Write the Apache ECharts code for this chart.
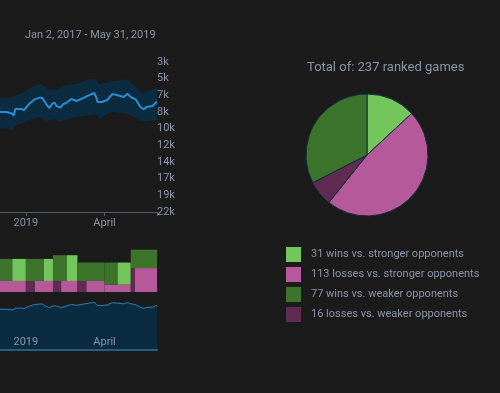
<!DOCTYPE html>
<html>
<head>
<meta charset="utf-8">
<script src="https://cdn.jsdelivr.net/npm/echarts@6/dist/echarts.min.js"></script>
<style>
html,body{margin:0;padding:0;background:#1b1b1b;}
#chart{width:500px;height:393px;}
</style>
</head>
<body>
<div id="chart"></div>
<script>
// ---- data ----
const rankLabels = ['3k','5k','7k','8k','10k','12k','14k','17k','19k','22k'];
// rank line (values in rank-label index units: 0 = 3k ... 9 = 22k)
const lineDates = ['2018-11-25','2018-12-10','2018-12-17','2018-12-18','2018-12-20','2018-12-22','2018-12-27','2018-12-30','2019-01-05','2019-01-11','2019-01-17','2019-01-20','2019-01-25','2019-01-28','2019-01-31','2019-02-03','2019-02-05','2019-02-06','2019-02-10','2019-02-12','2019-02-16','2019-02-22','2019-02-28','2019-03-06','2019-03-14','2019-03-20','2019-03-22','2019-03-24','2019-03-29','2019-04-04','2019-04-10','2019-04-15','2019-04-23','2019-04-27','2019-05-01','2019-05-07','2019-05-12','2019-05-16','2019-05-19','2019-05-26','2019-05-28','2019-05-31'];
const lineRank = [3.0,3.0,3.10,3.24,2.82,2.70,2.82,2.88,2.50,2.24,2.14,2.16,2.58,2.76,2.50,2.44,2.64,2.52,2.74,2.55,2.46,2.22,2.34,2.20,2.00,1.86,2.04,2.40,2.40,2.28,1.92,1.98,2.10,1.90,2.10,2.26,2.70,2.84,2.70,2.64,2.58,2.36];
// uncertainty band
const bandDates = ['2018-11-25','2018-12-13','2018-12-17','2018-12-21','2018-12-30','2019-01-08','2019-01-18','2019-01-21','2019-01-26','2019-02-01','2019-02-09','2019-02-16','2019-03-01','2019-03-14','2019-03-22','2019-03-26','2019-04-10','2019-04-26','2019-05-05','2019-05-14','2019-05-18','2019-05-24','2019-05-31'];
const bandUpper = [2.16,2.16,2.10,2.0,1.80,1.50,1.30,1.42,1.62,1.68,1.55,1.40,1.30,1.04,1.04,1.34,1.16,1.04,1.40,1.84,1.80,1.70,1.50];
const bandLower = [3.96,4.00,4.14,3.80,3.60,3.40,3.30,3.45,3.54,3.40,3.60,3.44,3.30,3.20,3.14,3.40,3.00,3.10,3.30,3.56,3.55,3.52,3.50];
// monthly game results
const monthStart = ['2018-12-01','2019-01-01','2019-02-01','2019-03-01','2019-04-01','2019-05-01'];
const monthEnd   = ['2019-01-01','2019-02-01','2019-03-01','2019-04-01','2019-05-01','2019-06-01'];
const winsWeak     = [3,4,4,5,3,5];
const winsStrong   = [3,2,3,0,3,0];
const lossesWeak   = [0,1,1,1,0,1];
const lossesStrong = [3,2,2,2,2,5.5];
// totals (legend order)
const pieNames = ['31 wins vs. stronger opponents','113 losses vs. stronger opponents','77 wins vs. weaker opponents','16 losses vs. weaker opponents'];
const pieValues = [31,113,77,16];
const pieColors = ['#74c55b','#b5599a','#3c742c','#5f2b52'];
const pieOrder = [0,1,3,2]; // clockwise order of slices from 12 o'clock
const xTickDates = ['2019-01-01','2019-04-01','2019-05-31'];
const xTickLabels = ['2019','April',''];

// ---- chart ----
const T = s => { const p = s.split('-').map(Number); return new Date(p[0], p[1]-1, p[2]).getTime(); };
const xMin = new Date(2018, 11, 2, 10).getTime();
const xMax = T('2019-05-31');
const textColor = '#8b94aa';
const font = 'Roboto';
const tickVals = xTickDates.map(T);
const fmtX = v => { const i = tickVals.indexOf(v); return i >= 0 ? xTickLabels[i] : ''; };

const lineData = lineDates.map((d, i) => [T(d), lineRank[i]]);
const bandData = bandDates.map((d, i) => [T(d), bandUpper[i], bandLower[i]]);
const barData = monthStart.map((d, i) => [T(d), T(monthEnd[i]), winsWeak[i], winsStrong[i], lossesWeak[i], lossesStrong[i]]);

const chart = echarts.init(document.getElementById('chart'), null, {renderer: 'canvas'});
chart.setOption({
  backgroundColor: '#1b1b1b',
  animation: false,
  textStyle: {fontFamily: font},
  title: [
    {text: 'Jan 2, 2017 - May 31, 2019', left: 25, top: 30, padding: 0, textStyle: {fontSize: 11, fontWeight: 'normal', color: textColor, fontFamily: font}},
    {text: 'Total of: 237 ranked games', left: 307, top: 61, padding: 0, textStyle: {fontSize: 13, fontWeight: 'normal', color: textColor, fontFamily: font}}
  ],
  grid: [
    {left: 0, right: 343, top: 62, height: 150},
    {left: 0, right: 343, top: 246, height: 46},
    {left: 0, right: 343, top: 291, height: 59}
  ],
  xAxis: [
    {type: 'value', gridIndex: 0, min: xMin, max: xMax,
     axisLine: {onZero: false, lineStyle: {color: '#555a60'}},
     axisTick: {show: true, length: 4, customValues: tickVals, lineStyle: {color: '#555a60'}},
     axisLabel: {customValues: tickVals, formatter: fmtX, color: textColor, fontSize: 11, margin: 6, fontFamily: font},
     splitLine: {show: false}},
    {type: 'value', gridIndex: 1, min: xMin, max: xMax, show: false},
    {type: 'value', gridIndex: 2, min: xMin, max: xMax,
     axisLine: {onZero: false, lineStyle: {color: '#2a5d80', width: 2}},
     axisTick: {show: false},
     axisLabel: {inside: true, customValues: tickVals, formatter: fmtX, color: textColor, fontSize: 11, margin: 2, fontFamily: font},
     splitLine: {show: false}, z: 5}
  ],
  yAxis: [
    {type: 'value', gridIndex: 0, inverse: true, min: 0, max: 9, interval: 1, position: 'right',
     axisLine: {show: false}, axisTick: {show: false}, splitLine: {show: false},
     axisLabel: {formatter: v => rankLabels[v] || '', color: textColor, fontSize: 11, margin: 0, padding: [0,0,4,0], fontFamily: font}},
    {type: 'value', gridIndex: 1, min: 0, max: 12.5, show: false},
    {type: 'value', gridIndex: 2, inverse: true, min: 0, max: 9.7, show: false}
  ],
  legend: {
    orient: 'vertical', left: 286, top: 247, padding: 0, itemWidth: 15, itemHeight: 15, itemGap: 5,
    icon: 'rect', data: pieNames,
    itemStyle: {borderWidth: 0},
    textStyle: {color: textColor, fontSize: 11, lineHeight: 15, fontFamily: font, padding: [0,0,0,5]}
  },
  series: [
    {type: 'custom', xAxisIndex: 0, yAxisIndex: 0, data: bandData, encode: {x: 0, y: [1, 2]}, silent: true, z: 1,
     renderItem: function (params, api) {
       if (params.dataIndex !== 0) return null;
       const pts = [];
       for (let i = 0; i < bandData.length; i++) pts.push(api.coord([bandData[i][0], bandData[i][1]]));
       for (let i = bandData.length - 1; i >= 0; i--) pts.push(api.coord([bandData[i][0], bandData[i][2]]));
       const cs = params.coordSys;
       return {type: 'polygon', shape: {points: pts}, style: {fill: '#0b2b40'},
               clipPath: {type: 'rect', shape: {x: cs.x, y: cs.y, width: cs.width, height: cs.height}}};
     }},
    {type: 'line', xAxisIndex: 0, yAxisIndex: 0, data: lineData, symbol: 'none', z: 3,
     lineStyle: {color: '#2b8ccf', width: 2}},
    {type: 'custom', xAxisIndex: 1, yAxisIndex: 1, data: barData, encode: {x: [0, 1], y: [4, 5]},
     renderItem: function (params, api) {
       const s = api.value(0), e = api.value(1);
       const ww = api.value(2), ws = api.value(3), lw = api.value(4), ls = api.value(5);
       const L = lw + ls, W = ww + ws;
       const p0 = api.coord([s, 0]);
       const p1 = api.coord([e, L]);
       const p2 = api.coord([e, L + W]);
       const x0 = p0[0], w = p1[0] - p0[0];
       const cs = params.coordSys;
       const out = [];
       const add = (x, y, wd, h, fill) => {
         const r = echarts.graphic.clipRectByRect({x: x, y: y, width: wd, height: h}, {x: cs.x, y: cs.y, width: cs.width, height: cs.height});
         if (r) out.push({type: 'rect', shape: r, style: {fill: fill}});
       };
       if (L > 0) {
         const wl = w * lw / L;
         add(x0, p1[1], wl, p0[1] - p1[1], pieColors[3]);
         add(x0 + wl, p1[1], w - wl, p0[1] - p1[1], pieColors[1]);
       }
       if (W > 0) {
         const wwd = w * ww / W;
         add(x0, p2[1], wwd, p1[1] - p2[1], pieColors[2]);
         add(x0 + wwd, p2[1], w - wwd, p1[1] - p2[1], pieColors[0]);
       }
       return {type: 'group', children: out};
     }},
    {type: 'line', xAxisIndex: 2, yAxisIndex: 2, data: lineData, symbol: 'none',
     lineStyle: {color: '#2a7fb8', width: 1}, areaStyle: {color: '#0b2b40', opacity: 1, origin: 'end'}},
    {type: 'pie', center: [367, 155], radius: 61, startAngle: 90, clockwise: true,
     label: {show: false}, labelLine: {show: false},
     itemStyle: {borderColor: '#0e2d3f', borderWidth: 1},
     data: pieOrder.map(i => ({name: pieNames[i], value: pieValues[i], itemStyle: {color: pieColors[i]}}))}
  ]
});
</script>
</body>
</html>
